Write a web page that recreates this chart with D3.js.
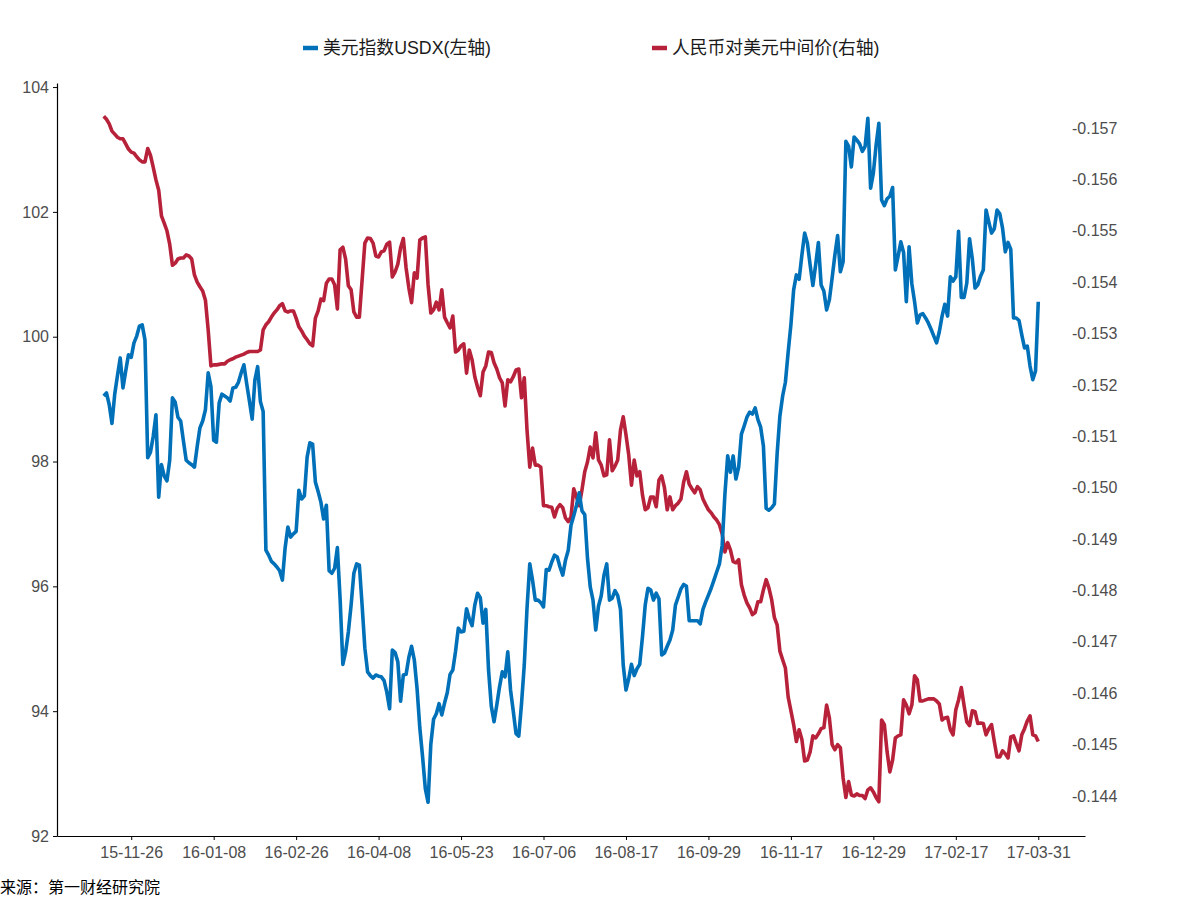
<!DOCTYPE html>
<html>
<head>
<meta charset="utf-8">
<script src="https://cdn.jsdelivr.net/npm/d3@7"></script>
<style>
  body { margin: 0; background: #fff; }
  text { font-family: "Liberation Sans", Arial, "Noto Sans CJK SC", sans-serif; }
</style>
</head>
<body>
<div id="chart"></div>
<script>
// trading-day index of each labelled tick, and its label
const tickIndex = [10, 40, 70, 100, 130, 160, 190, 220, 250, 280, 310, 340];
const tickLabels = ['15-11-26', '16-01-08', '16-02-26', '16-04-08', '16-05-23', '16-07-06',
  '16-08-17', '16-09-29', '16-11-17', '16-12-29', '17-02-17', '17-03-31'];

const leftTicks = [92, 94, 96, 98, 100, 102, 104];
const rightTicks = [-0.157, -0.156, -0.155, -0.154, -0.153, -0.152, -0.151,
  -0.150, -0.149, -0.148, -0.147, -0.146, -0.145, -0.144];

const seriesNames = ['美元指数USDX(左轴)', '人民币对美元中间价(右轴)'];

// USDX, one value per trading day
const usdx = [
  99.05, 99.10, 98.91, 98.61, 99.08, 99.38, 99.66, 99.18, 99.45, 99.71,
  99.67, 99.90, 100.01, 100.17, 100.19, 99.95, 98.06, 98.15, 98.40, 98.75,
  97.43, 97.95, 97.77, 97.69, 98.02, 99.02, 98.95, 98.71, 98.65, 98.33,
  98.02, 97.98, 97.95, 97.91, 98.24, 98.54, 98.65, 98.83, 99.42, 99.20,
  98.34, 98.31, 98.94, 99.08, 99.05, 99.02, 98.97, 99.18, 99.19, 99.27,
  99.42, 99.55, 99.25, 98.97, 98.68, 99.31, 99.52, 98.96, 98.80, 96.58,
  96.50, 96.40, 96.36, 96.31, 96.25, 96.10, 96.62, 96.95, 96.79, 96.84,
  96.88, 97.54, 97.40, 97.45, 98.07, 98.30, 98.28, 97.67, 97.52, 97.35,
  97.08, 97.30, 96.25, 96.21, 96.29, 96.62, 95.80, 94.75, 94.95, 95.27,
  95.70, 96.21, 96.36, 96.34, 95.70, 95.01, 94.63, 94.57, 94.53, 94.58,
  94.56, 94.55, 94.49, 94.30, 94.04, 94.98, 94.94, 94.79, 94.16, 94.58,
  94.59, 94.86, 95.04, 94.82, 94.36, 93.73, 93.27, 92.76, 92.54, 93.47,
  93.87, 93.96, 94.12, 93.94, 94.13, 94.30, 94.59, 94.66, 94.96, 95.33,
  95.27, 95.28, 95.64, 95.48, 95.37, 95.70, 95.89, 95.82, 95.41, 95.63,
  94.66, 94.08, 93.83, 94.10, 94.39, 94.63, 94.55, 94.95, 94.34, 94.00,
  93.64, 93.60, 94.12, 94.74, 95.65, 96.36, 96.10, 95.78, 95.78, 95.74,
  95.67, 96.27, 96.26, 96.39, 96.50, 96.47, 96.31, 96.18, 96.42, 96.58,
  96.98, 97.13, 97.30, 97.50, 97.21, 97.15, 96.45, 95.99, 95.78, 95.30,
  95.68, 95.85, 96.18, 96.36, 95.78, 95.81, 95.93, 95.85, 95.63, 94.74,
  94.34, 94.52, 94.75, 94.57, 94.68, 94.75, 95.19, 95.70, 95.97, 95.94,
  95.78, 95.89, 95.80, 94.90, 94.93, 95.04, 95.14, 95.30, 95.70, 95.83,
  95.96, 96.03, 96.00, 95.45, 95.45, 95.45, 95.45, 95.40, 95.63, 95.75,
  95.86, 95.97, 96.10, 96.23, 96.36, 96.66, 97.48, 98.09, 97.83, 98.09,
  97.72, 97.91, 98.44, 98.57, 98.71, 98.79, 98.76, 98.86, 98.67, 98.55,
  98.25, 97.25, 97.22, 97.26, 97.32, 98.13, 98.73, 99.05, 99.27, 99.75,
  100.19, 100.75, 100.99, 100.92, 101.31, 101.66, 101.50, 101.15, 100.82, 101.15,
  101.51, 100.83, 100.73, 100.43, 100.59, 100.94, 101.31, 101.62, 101.04, 101.20,
  103.13, 103.05, 102.72, 103.20, 103.15, 103.09, 102.97, 103.05, 103.50, 102.38,
  102.62, 103.07, 103.42, 102.19, 102.10, 102.21, 102.25, 102.39, 101.07, 101.29,
  101.52, 101.35, 100.56, 101.44, 100.85, 100.56, 100.22, 100.35, 100.37, 100.30,
  100.22, 100.12, 100.01, 99.90, 100.08, 100.33, 100.52, 100.33, 100.96, 100.89,
  100.96, 101.69, 100.63, 100.63, 100.86, 101.57, 101.25, 100.78, 100.83, 100.97,
  101.07, 102.03, 101.84, 101.66, 101.73, 102.03, 101.97, 101.74, 101.36, 101.51,
  101.40, 100.30, 100.30, 100.26, 100.03, 99.82, 99.85, 99.53, 99.31, 99.45,
  100.56
];

// RMB central parity against USD, same trading days
const cny = [
  -0.15723, -0.15717, -0.15708, -0.15694, -0.15688, -0.15682, -0.15679, -0.15679, -0.15669, -0.15659,
  -0.15653, -0.15651, -0.15644, -0.15638, -0.15634, -0.15634, -0.15660, -0.15647, -0.15624, -0.15599,
  -0.15579, -0.15529, -0.15515, -0.15500, -0.15474, -0.15433, -0.15437, -0.15445, -0.15447, -0.15447,
  -0.15453, -0.15451, -0.15445, -0.15414, -0.15400, -0.15391, -0.15383, -0.15365, -0.15307, -0.15237,
  -0.15239, -0.15239, -0.15240, -0.15241, -0.15241, -0.15246, -0.15249, -0.15251, -0.15254, -0.15256,
  -0.15258, -0.15260, -0.15263, -0.15265, -0.15265, -0.15265, -0.15265, -0.15268, -0.15307, -0.15317,
  -0.15323, -0.15332, -0.15340, -0.15346, -0.15354, -0.15358, -0.15344, -0.15342, -0.15344, -0.15344,
  -0.15330, -0.15313, -0.15305, -0.15295, -0.15288, -0.15280, -0.15276, -0.15330, -0.15344, -0.15367,
  -0.15364, -0.15398, -0.15406, -0.15406, -0.15395, -0.15348, -0.15463, -0.15468, -0.15445, -0.15393,
  -0.15385, -0.15342, -0.15332, -0.15332, -0.15404, -0.15476, -0.15486, -0.15485, -0.15476, -0.15451,
  -0.15449, -0.15459, -0.15461, -0.15474, -0.15478, -0.15410, -0.15420, -0.15435, -0.15467, -0.15485,
  -0.15428, -0.15389, -0.15360, -0.15418, -0.15408, -0.15482, -0.15486, -0.15488, -0.15395, -0.15340,
  -0.15346, -0.15361, -0.15346, -0.15385, -0.15332, -0.15321, -0.15311, -0.15334, -0.15264, -0.15268,
  -0.15276, -0.15280, -0.15223, -0.15268, -0.15249, -0.15216, -0.15196, -0.15179, -0.15225, -0.15237,
  -0.15264, -0.15263, -0.15243, -0.15231, -0.15214, -0.15204, -0.15159, -0.15210, -0.15206, -0.15216,
  -0.15229, -0.15231, -0.15175, -0.15214, -0.15112, -0.15040, -0.15077, -0.15044, -0.15044, -0.15040,
  -0.14965, -0.14965, -0.14963, -0.14962, -0.14943, -0.14960, -0.14967, -0.14961, -0.14941, -0.14934,
  -0.14943, -0.14998, -0.14982, -0.14965, -0.14996, -0.15031, -0.15050, -0.15079, -0.15058, -0.15107,
  -0.15054, -0.15044, -0.15023, -0.15025, -0.15093, -0.15033, -0.15042, -0.15054, -0.15112, -0.15138,
  -0.15103, -0.15064, -0.15005, -0.15054, -0.15023, -0.15031, -0.14986, -0.14957, -0.14961, -0.14982,
  -0.14982, -0.14963, -0.15015, -0.15023, -0.15000, -0.14957, -0.14982, -0.14957, -0.14965, -0.14970,
  -0.14978, -0.15011, -0.15031, -0.15007, -0.14998, -0.14990, -0.15002, -0.14996, -0.14978, -0.14967,
  -0.14957, -0.14951, -0.14943, -0.14937, -0.14928, -0.14910, -0.14875, -0.14893, -0.14879, -0.14856,
  -0.14854, -0.14860, -0.14811, -0.14791, -0.14776, -0.14766, -0.14753, -0.14757, -0.14778, -0.14778,
  -0.14801, -0.14821, -0.14805, -0.14782, -0.14747, -0.14733, -0.14682, -0.14665, -0.14649, -0.14593,
  -0.14566, -0.14539, -0.14506, -0.14529, -0.14510, -0.14468, -0.14470, -0.14486, -0.14517, -0.14513,
  -0.14521, -0.14531, -0.14533, -0.14577, -0.14552, -0.14500, -0.14490, -0.14500, -0.14494, -0.14435,
  -0.14397, -0.14428, -0.14402, -0.14400, -0.14404, -0.14401, -0.14401, -0.14395, -0.14412, -0.14416,
  -0.14408, -0.14397, -0.14389, -0.14548, -0.14539, -0.14486, -0.14447, -0.14470, -0.14513, -0.14517,
  -0.14519, -0.14587, -0.14577, -0.14560, -0.14577, -0.14634, -0.14626, -0.14585, -0.14585, -0.14587,
  -0.14589, -0.14589, -0.14589, -0.14585, -0.14579, -0.14548, -0.14552, -0.14553, -0.14529, -0.14519,
  -0.14568, -0.14587, -0.14611, -0.14576, -0.14544, -0.14537, -0.14566, -0.14564, -0.14541, -0.14542,
  -0.14541, -0.14519, -0.14531, -0.14539, -0.14506, -0.14476, -0.14476, -0.14488, -0.14482, -0.14474,
  -0.14515, -0.14517, -0.14502, -0.14488, -0.14519, -0.14531, -0.14546, -0.14556, -0.14519, -0.14517,
  -0.14506
];

const BLUE = '#0070b8';
const RED = '#b7213a';
const AXIS_TEXT = '#4d4d4d';

const width = 1181;
const height = 900;
const panel = { left: 57, right: 1085, top: 83, bottom: 836 };

const svg = d3.select('#chart')
  .append('svg')
  .attr('width', width)
  .attr('height', height);

// index axis, padded on both ends like the original
const x = d3.scaleLinear()
  .domain([-17, 357])
  .range([panel.left, panel.right]);

const yLeft = d3.scaleLinear()
  .domain([92, 104.065])
  .range([panel.bottom, panel.top]);

const yRight = d3.scaleLinear()
  .domain([-0.157, -0.144])
  .range([128, 796]);

// Axes
const xAxis = svg.append('g')
  .attr('transform', `translate(0,${panel.bottom})`)
  .call(d3.axisBottom(x)
    .tickValues(tickIndex)
    .tickFormat((d, i) => tickLabels[i])
    .tickSizeInner(4)
    .tickSizeOuter(0)
    .tickPadding(4));

const leftAxis = svg.append('g')
  .attr('transform', `translate(${panel.left},0)`)
  .call(d3.axisLeft(yLeft)
    .tickValues(leftTicks)
    .tickFormat(d3.format('d'))
    .tickSizeInner(4)
    .tickSizeOuter(0)
    .tickPadding(4));

const rightAxis = svg.append('g')
  .attr('transform', 'translate(1068,0)')
  .call(d3.axisRight(yRight)
    .tickValues(rightTicks)
    .tickFormat(d => d.toFixed(3))
    .tickSize(0)
    .tickPadding(4));
rightAxis.select('.domain').remove();

[xAxis, leftAxis, rightAxis].forEach(g => {
  g.select('.domain').attr('stroke', '#000').attr('stroke-width', 1.2);
  g.selectAll('.tick line').attr('stroke', '#000');
  g.selectAll('.tick text')
    .attr('fill', AXIS_TEXT)
    .style('font-size', '16px');
});
xAxis.selectAll('.tick text').attr('dy', '0.9em');

// Lines
const usdxLine = d3.line()
  .x((d, i) => x(i))
  .y(d => yLeft(d));

const cnyLine = d3.line()
  .x((d, i) => x(i))
  .y(d => yRight(d));

svg.append('path')
  .datum(cny)
  .attr('fill', 'none')
  .attr('stroke', RED)
  .attr('stroke-width', 3.6)
  .attr('stroke-linejoin', 'round')
  .attr('d', cnyLine);

svg.append('path')
  .datum(usdx)
  .attr('fill', 'none')
  .attr('stroke', BLUE)
  .attr('stroke-width', 3.6)
  .attr('stroke-linejoin', 'round')
  .attr('d', usdxLine);

// Legend
const legend = svg.append('g');
const legendItems = [
  { name: seriesNames[0], color: BLUE, x: 303 },
  { name: seriesNames[1], color: RED, x: 652 }
];
const legendItem = legend.selectAll('g')
  .data(legendItems)
  .enter().append('g')
    .attr('transform', d => `translate(${d.x},48)`);

legendItem.append('line')
  .attr('x1', 0)
  .attr('x2', 15)
  .attr('stroke', d => d.color)
  .attr('stroke-width', 4.5);

legendItem.append('text')
  .attr('x', 20)
  .attr('dy', '0.35em')
  .attr('fill', '#1a1a1a')
  .style('font-size', '17.8px')
  .text(d => d.name);

// Source note
svg.append('text')
  .attr('x', 0)
  .attr('y', 893)
  .attr('fill', '#000')
  .style('font-size', '16px')
  .text('来源：第一财经研究院');
</script>
</body>
</html>
